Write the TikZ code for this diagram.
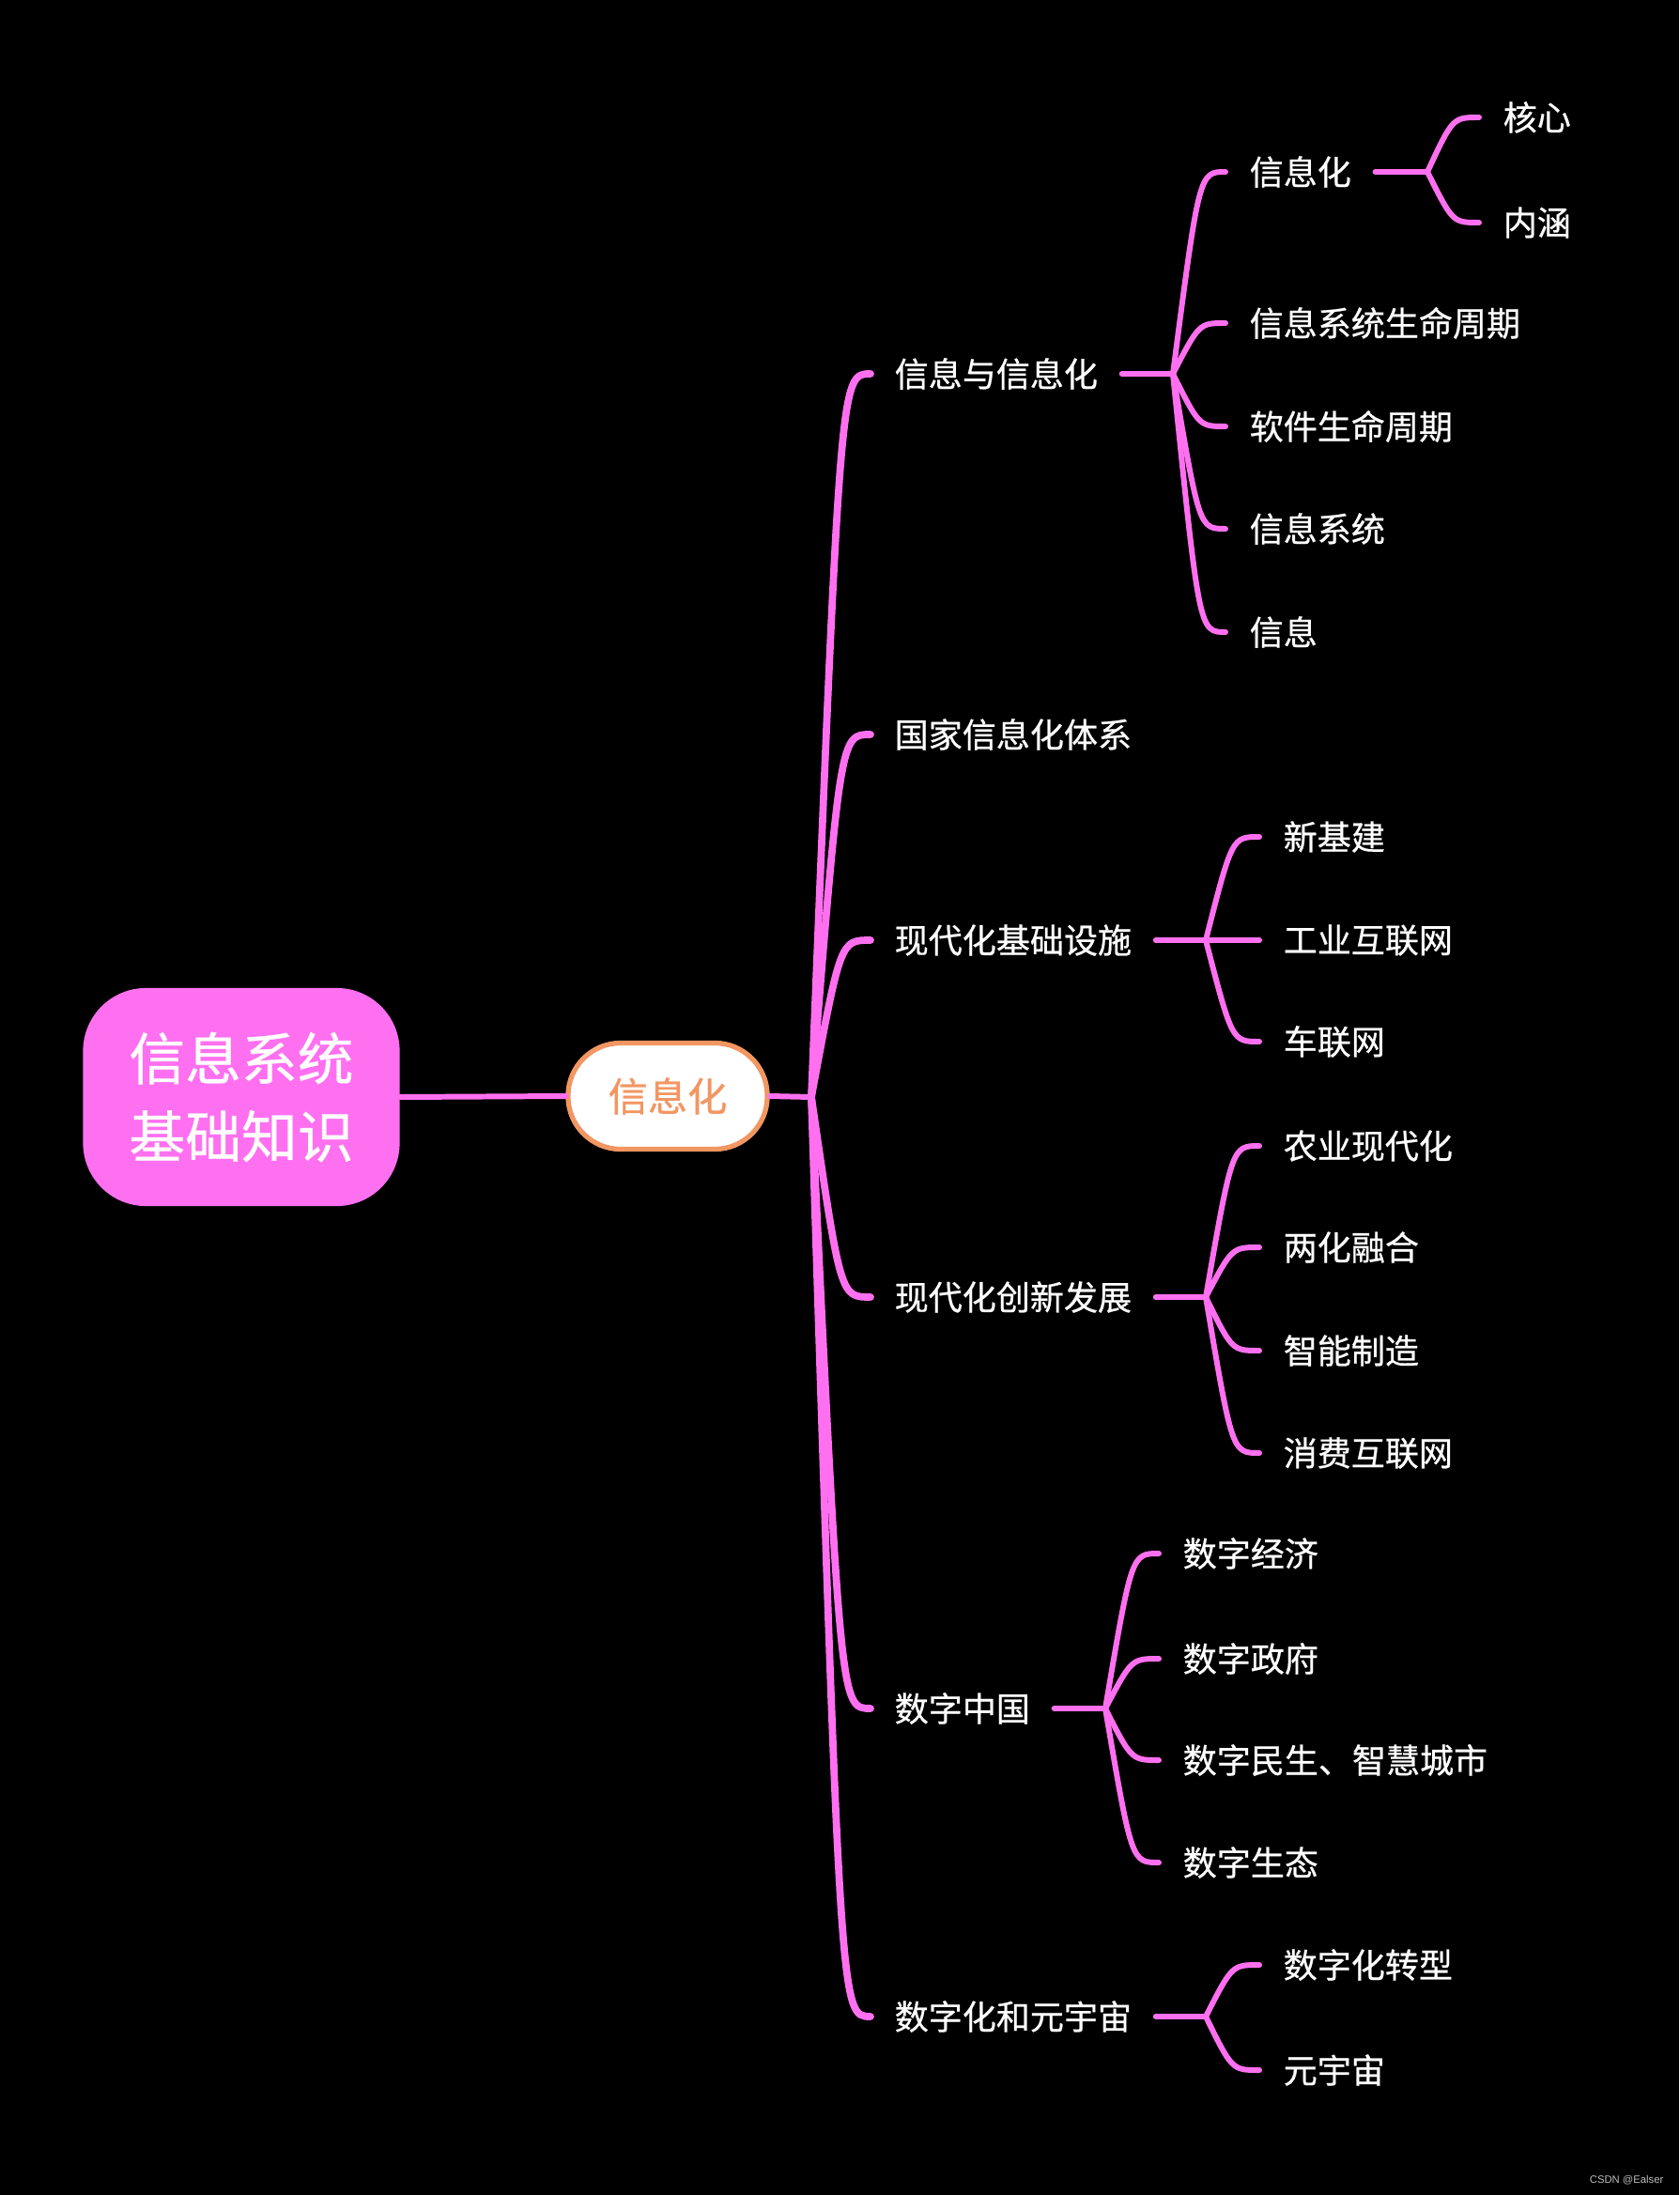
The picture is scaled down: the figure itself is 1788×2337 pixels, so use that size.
\documentclass[tikz,border=0pt]{standalone}
\usepackage{fontspec}
\newfontfamily\cjk[FakeBold=0.6]{Noto Sans CJK SC}
\newfontfamily\marksans{Liberation Sans}
\usepackage{xcolor}
\definecolor{linkpink}{RGB}{255,112,240}
\definecolor{rootpink}{RGB}{255,112,240}
\definecolor{huborange}{RGB}{242,150,98}
\definecolor{markgray}{RGB}{190,190,190}

\tikzset{
  link/.style={draw=linkpink, line width=1.7pt, line cap=round},
  trunk/.style={link, line width=2.2pt},
  topic/.style={anchor=west, text=white, inner xsep=0.25cm, inner ysep=2pt,
    font=\cjk\fontsize{10.25pt}{12pt}\selectfont},
}

\begin{document}
\begin{tikzpicture}[x=0.01cm,y=-0.01cm]
        % Background
        \fill[black] (0,0) rectangle (1788,2337);
        
        % Root and centre topic
        \node[fill=rootpink, text=white, rounded corners=0.67cm, align=center,
              minimum width=3.37cm, minimum height=2.32cm,
              font=\cjk\fontsize{17pt}{23.6pt}\selectfont] (root) at (257,1168) {信息系统\\基础知识};
        \node[fill=white, draw=huborange, line width=1.5pt, text=huborange,
              rounded corners=0.56cm, minimum width=2.12cm, minimum height=1.13cm,
              font=\cjk\fontsize{12pt}{14pt}\selectfont] (main) at (711,1167) {信息化};
        \draw[link] (root.east) -- (main.west);
        
        % First level
        \coordinate (h0) at (864,1168);
        \draw[link] (main.east) -- (h0);
        \foreach \nm/\y/\txt in {infoA/398/信息与信息化, infoB/782/国家信息化体系,
                                  infoC/1001/现代化基础设施, infoD/1381/现代化创新发展,
                                  infoE/1819/数字中国, infoF/2147/数字化和元宇宙} {
            \node[topic] (\nm) at (927,\y) {\txt};
            \draw[trunk] (h0) .. controls (895,\y) .. (\nm.west);
        }
        
        % 信息与信息化
        \coordinate (hA) at (1249,398);
        \draw[link] (infoA.east) -- (hA);
        \foreach \nm/\y/\txt in {a1/183/信息化, a2/344/信息系统生命周期, a3/454/软件生命周期,
                                  a4/563/信息系统, a5/673/信息} {
            \node[topic] (\nm) at (1305,\y) {\txt};
            \draw[link] (hA) .. controls (1277,\y) .. (\nm.west);
        }
        
        % 信息化
        \coordinate (hA1) at (1520,183);
        \draw[link] (a1.east) -- (hA1);
        \foreach \nm/\y/\txt in {a11/125/核心, a12/237/内涵} {
            \node[topic] (\nm) at (1575,\y) {\txt};
            \draw[link] (hA1) .. controls (1547,\y) .. (\nm.west);
        }
        
        % 现代化基础设施
        \coordinate (hC) at (1284,1001);
        \draw[link] (infoC.east) -- (hC);
        \foreach \nm/\y/\txt in {c1/891/新基建, c2/1001/工业互联网, c3/1109/车联网} {
            \node[topic] (\nm) at (1341,\y) {\txt};
            \draw[link] (hC) .. controls (1312,\y) .. (\nm.west);
        }
        
        % 现代化创新发展
        \coordinate (hD) at (1284,1381);
        \draw[link] (infoD.east) -- (hD);
        \foreach \nm/\y/\txt in {d1/1220/农业现代化, d2/1328/两化融合, d3/1438/智能制造,
                                  d4/1547/消费互联网} {
            \node[topic] (\nm) at (1341,\y) {\txt};
            \draw[link] (hD) .. controls (1312,\y) .. (\nm.west);
        }
        
        % 数字中国
        \coordinate (hE) at (1177,1819);
        \draw[link] (infoE.east) -- (hE);
        \foreach \nm/\y/\txt in {e1/1654/数字经济, e2/1766/数字政府, e3/1874/数字民生、智慧城市,
                                  e4/1983/数字生态} {
            \node[topic] (\nm) at (1234,\y) {\txt};
            \draw[link] (hE) .. controls (1205,\y) .. (\nm.west);
        }
        
        % 数字化和元宇宙
        \coordinate (hF) at (1284,2147);
        \draw[link] (infoF.east) -- (hF);
        \foreach \nm/\y/\txt in {f1/2092/数字化转型, f2/2204/元宇宙} {
            \node[topic] (\nm) at (1341,\y) {\txt};
            \draw[link] (hF) .. controls (1312,\y) .. (\nm.west);
        }
        
        % Watermark
        \node[anchor=east, text=markgray, inner sep=0pt,
              font=\marksans\fontsize{3.2pt}{4pt}\selectfont] (mark) at (1772,2321) {CSDN @Ealser};
        
    \end{tikzpicture}
\end{document}
